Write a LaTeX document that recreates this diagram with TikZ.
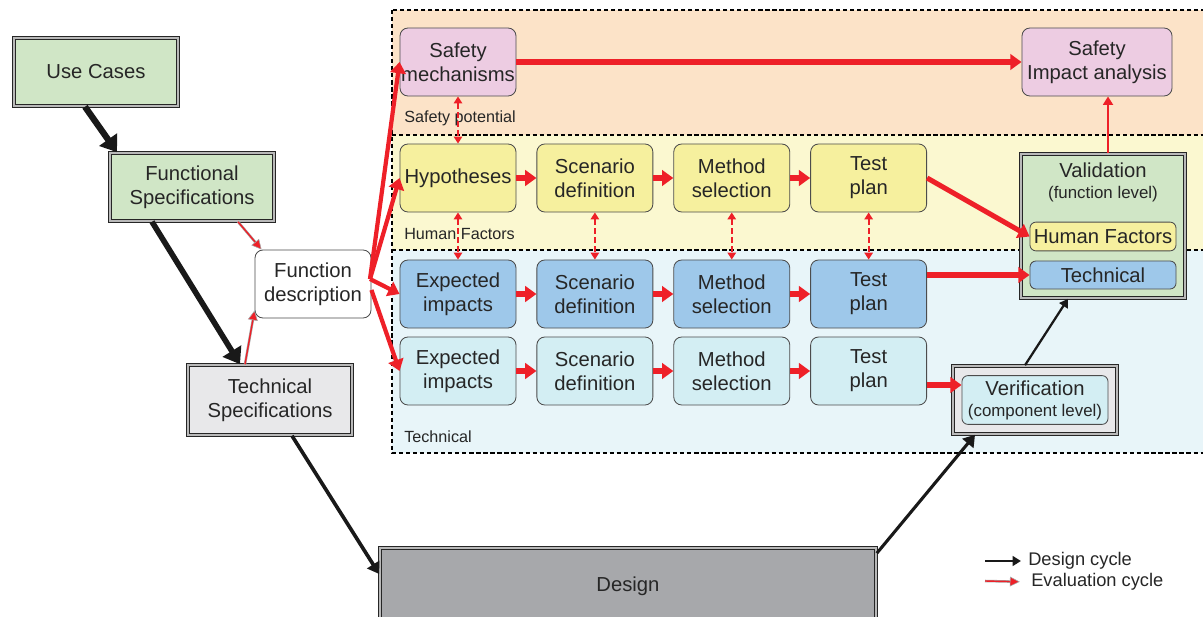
\documentclass[tikz,border=0pt]{standalone}
\usepackage{fontspec}
\setmainfont{Liberation Sans}
\usetikzlibrary{positioning, arrows.meta, calc}

\definecolor{evalred}{HTML}{EE2028}
\definecolor{specgreen}{HTML}{D0E6C6}
\definecolor{specgray}{HTML}{E8E8EA}
\definecolor{designgray}{HTML}{A7A8AB}
\definecolor{safepink}{HTML}{EDCCE2}
\definecolor{hfyellow}{HTML}{F6F09E}
\definecolor{techblue}{HTML}{9EC8EA}
\definecolor{techcyan}{HTML}{D3EEF3}
\definecolor{bandorange}{HTML}{FCE3C8}
\definecolor{bandyellow}{HTML}{FBF8D0}
\definecolor{bandblue}{HTML}{E8F5F9}

\begin{document}
\begin{tikzpicture}[
    x=0.025cm, y=-0.025cm,
    node distance=0.5cm,
    every node/.style={align=center, font=\fontsize{14.4}{17}\selectfont, text=black!85},
    spec/.style={rectangle, draw=black!85, line width=1.1pt, double=gray!55, double distance=0.9pt, minimum width=4.1cm, minimum height=1.7cm},
    task/.style={rectangle, rounded corners=0.2cm, draw=black!70, line width=0.6pt, minimum width=2.9cm, minimum height=1.7cm, inner sep=0.5pt},
    inbox/.style={rectangle, rounded corners=0.15cm, draw=black!70, line width=0.6pt, minimum width=3.65cm, inner sep=0.5pt},
    band/.style={font=\fontsize{11.5}{13}\selectfont, anchor=west, inner sep=0pt},
    legend/.style={font=\fontsize{13}{15}\selectfont, anchor=west, inner sep=0pt},
    bigarrow/.style={draw=black!90, line width=4.5pt, -{Triangle[length=11pt, width=15pt]}},
    midarrow/.style={draw=black!90, line width=2.6pt, -{Triangle[length=8pt, width=10pt]}},
    thinarrow/.style={draw=black!90, line width=1.6pt, -{Triangle[length=6pt, width=7pt]}},
    redarrow/.style={draw=evalred, line width=3.6pt, -{Triangle[length=8pt, width=11pt]}},
    thinred/.style={draw=evalred, line width=1.5pt, -{Triangle[length=6pt, width=7pt]}},
    linkarrow/.style={draw=evalred, line width=1.4pt, dash pattern=on 4pt off 2.5pt, {Triangle[length=5pt, width=6pt]}-{Triangle[length=5pt, width=6pt]}},
    evalarrow/.style={draw=gray!70, line width=0.4pt, double=evalred, double distance=1pt, -{Triangle[length=7pt, width=7pt, fill=evalred, color=gray!70]}}
]
\clip (0,0) rectangle (1203,617);

% Bereiche
\fill[bandorange] (392,10) rectangle (1210,135);
\fill[bandyellow] (392,135) rectangle (1210,250);
\fill[bandblue] (392,250) rectangle (1210,453);
\draw[line width=0.9pt, dash pattern=on 3pt off 2pt] (392,10) rectangle (1210,453);
\draw[line width=0.9pt, dash pattern=on 3pt off 2pt] (392,135) -- (1210,135);
\draw[line width=0.9pt, dash pattern=on 3pt off 2pt] (392,250) -- (1210,250);

\node[band] (lblsafe) at (404,118) {Safety potential};
\node[band] (lblhf) at (404,234) {Human Factors};
\node[band] (lbltech) at (404,437) {Technical};

% V-Modell
\node[spec, fill=specgreen] (usecases) at (96,72) {Use Cases};
\node[spec, fill=specgreen] (funcspec) at (192,187) {Functional\\Specifications};
\node[spec, fill=specgray, minimum height=1.75cm] (techspec) at (270,400) {Technical\\Specifications};
\node[task, fill=white] (funcdesc) at (313,284) {Function\\description};
\node[spec, fill=designgray, minimum width=12.4cm, minimum height=1.9cm] (design) at (628,586) {Design};

% Safety
\node[task, fill=safepink] (safety) at (458,62) {Safety\\mechanisms};
\node[task, fill=safepink, minimum width=3.75cm] (impact) at (1097,62) {Safety\\Impact analysis};

% Human Factors
\node[task, fill=hfyellow] (hyp) at (458,178) {Hypotheses};
\node[task, fill=hfyellow, right=of hyp] (hfscen) {Scenario\\definition};
\node[task, fill=hfyellow, right=of hfscen] (hfmeth) {Method\\selection};
\node[task, fill=hfyellow, right=of hfmeth] (hftest) {Test\\plan};

% Technical
\node[task, fill=techblue] (tximp) at (458,294) {Expected\\impacts};
\node[task, fill=techblue, right=of tximp] (txscen) {Scenario\\definition};
\node[task, fill=techblue, right=of txscen] (txmeth) {Method\\selection};
\node[task, fill=techblue, right=of txmeth] (txtest) {Test\\plan};

\node[task, fill=techcyan] (tcimp) at (458,371) {Expected\\impacts};
\node[task, fill=techcyan, right=of tcimp] (tcscen) {Scenario\\definition};
\node[task, fill=techcyan, right=of tcscen] (tcmeth) {Method\\selection};
\node[task, fill=techcyan, right=of tcmeth] (tctest) {Test\\plan};

% Validierung / Verifikation
\node[spec, fill=specgreen, minimum height=3.6cm] (valid) at (1103,226) {};
\node[inner sep=0pt] (validtxt) at (1103,182) {Validation\\[-2pt]{\fontsize{12}{14}\selectfont (function level)}};
\node[inbox, fill=hfyellow, minimum height=0.72cm] (validhf) at (1103,236.5) {Human Factors};
\node[inbox, fill=techblue, minimum height=0.7cm] (validtech) at (1103,275) {Technical};

\node[spec, fill=specgray] (verif) at (1035,400) {};
\node[inbox, fill=techcyan, minimum height=1.22cm] (veriftxt) at (1035,400) {Verification\\[-2pt]{\fontsize{12}{14}\selectfont (component level)}};

% Legende
\node[legend] (legdesign) at (1028,561) {Design cycle};
\node[legend] (legeval) at (1031,582) {Evaluation cycle};
\coordinate (legdstart) at (985,561);
\coordinate (legestart) at (985,581);

% Design-Zyklus
\draw[bigarrow] ($(usecases.south)+(-11,0)$) -- ($(funcspec.north)+(-75,0)$);
\draw[bigarrow, line width=4pt] ($(funcspec.south)+(-40,0)$) -- ($(techspec.north)+(-30,0)$);
\draw[midarrow] ($(techspec.south)+(22,0)$) -- ($(design.west)+(0,-12)$);
\draw[midarrow, line width=2.2pt] ($(design.north east)+(0,6)$) -- ($(verif.south)+(-60,0)$);
\draw[thinarrow] ($(verif.north)+(-10,0)$) -- ($(valid.south)+(-35,0)$);
\draw[thinarrow, shorten >=5pt] (legdstart) -- (legdesign.west);

% Evaluations-Zyklus
\draw[evalarrow] ($(funcspec.south)+(46,0)$) -- ($(funcdesc.north west)+(7,0)$);
\draw[evalarrow] ($(techspec.north)+(-25,0)$) -- ($(funcdesc.south west)+(0,-8)$);
\draw[evalarrow, shorten >=8pt] (legestart) -- (legeval.west);

\coordinate (fan) at (370,279);
\draw[redarrow, line width=3pt] (fan) -- (safety.west);
\draw[redarrow, line width=3pt] (fan) -- (hyp.west);
\draw[redarrow, line width=3pt] (fan) -- (tximp.west);
\draw[redarrow, line width=3pt] ($(funcdesc.east)+(0,6)$) -- (tcimp.west);

\draw[redarrow] (safety) -- (impact);
\draw[redarrow] (hyp) -- (hfscen);
\draw[redarrow] (hfscen) -- (hfmeth);
\draw[redarrow] (hfmeth) -- (hftest);
\draw[redarrow] (tximp) -- (txscen);
\draw[redarrow] (txscen) -- (txmeth);
\draw[redarrow] (txmeth) -- (txtest);
\draw[redarrow] (tcimp) -- (tcscen);
\draw[redarrow] (tcscen) -- (tcmeth);
\draw[redarrow] (tcmeth) -- (tctest);

\coordinate (tcout) at ($(tctest.east)+(0,14)$);
\coordinate (validtop) at ($(valid.north)+(5,0)$);
\draw[redarrow] (hftest.east) -- (validhf.west);
\draw[redarrow] (txtest.east |- validtech.west) -- (validtech.west);
\draw[redarrow] (tcout) -- (tcout -| veriftxt.west);
\draw[thinred] (validtop) -- (validtop |- impact.south);

% Verknuepfungen
\draw[linkarrow] (safety) -- (hyp);
\draw[linkarrow] (hyp) -- (tximp);
\draw[linkarrow] (hfscen) -- (txscen);
\draw[linkarrow] (hfmeth) -- (txmeth);
\draw[linkarrow] (hftest) -- (txtest);

\end{tikzpicture}
\end{document}
